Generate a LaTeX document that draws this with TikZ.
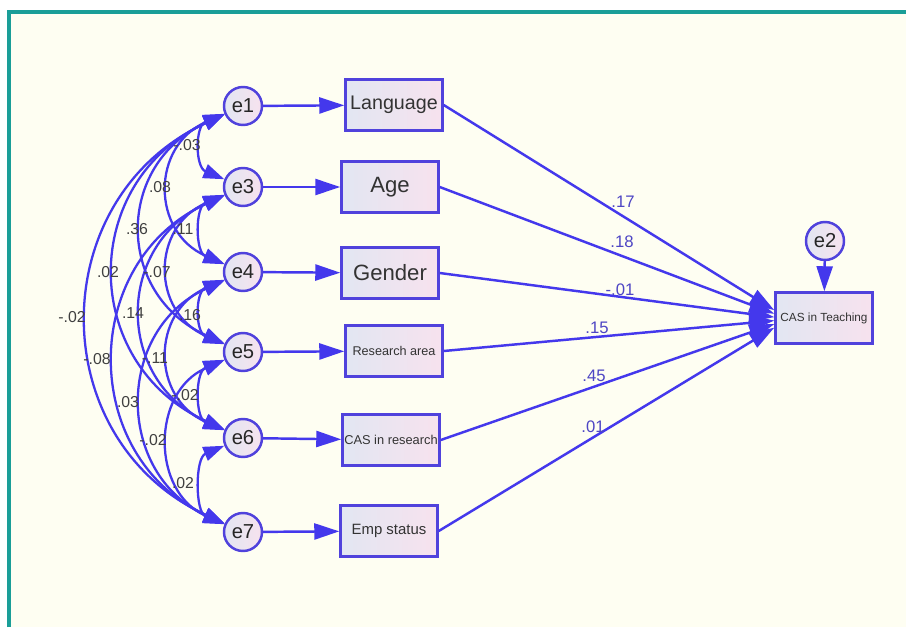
\documentclass[tikz,border=0pt]{standalone}
\usepackage{fontspec}
\setmainfont{Liberation Sans}
\usetikzlibrary{arrows.meta}

\definecolor{edgeblue}{RGB}{68,56,236}
\definecolor{nodeline}{RGB}{80,66,220}
\definecolor{boxleft}{RGB}{226,230,242}
\definecolor{boxright}{RGB}{247,226,238}
\definecolor{canvas}{RGB}{254,254,242}
\definecolor{frameteal}{RGB}{26,158,152}
\definecolor{weightblue}{RGB}{78,70,196}
\definecolor{covgray}{RGB}{64,64,64}

\tikzset{
  errnode/.style={circle, draw=nodeline, line width=1.4pt, left color=boxleft, right color=boxright,
    minimum size=7.6mm, inner sep=0pt, text=black!85, font=\fontsize{11.5}{12}\selectfont},
  varbox/.style={rectangle, draw=nodeline, line width=1.4pt, left color=boxleft, right color=boxright,
    minimum width=19.4mm, minimum height=10.2mm, inner sep=1pt, text=black!80},
  regpath/.style={-{Triangle[length=5mm,width=3.2mm]}, draw=edgeblue, line width=1.4pt},
  covpath/.style={{Triangle[length=4.2mm,width=2.9mm]}-{Triangle[length=4.2mm,width=2.9mm]},
    draw=edgeblue, line width=1.3pt},
  weight/.style={text=weightblue, font=\fontsize{9.5}{10}\selectfont},
  covlabel/.style={text=covgray, font=\fontsize{9}{10}\selectfont}
}

\begin{document}
\begin{tikzpicture}[x=0.2mm, y=-0.2mm]
  % page, background and frame
  \useasboundingbox (0,0) rectangle (906,627);
  \fill[canvas] (9,12) rectangle (906,627);
  \draw[frameteal, line width=0.8mm] (9,627) -- (9,12) -- (906,12);

  % error terms
  \node[errnode] (e1) at (243,106) {e1};
  \node[errnode] (e3) at (243,187) {e3};
  \node[errnode] (e4) at (243,272) {e4};
  \node[errnode] (e5) at (243,352) {e5};
  \node[errnode] (e6) at (243,438) {e6};
  \node[errnode] (e7) at (243,532) {e7};

  % observed variables
  \node[varbox, font=\fontsize{11.2}{12}\selectfont] (lang) at (394,105) {Language};
  \node[varbox, font=\fontsize{12.6}{13}\selectfont] (age) at (390,187) {Age};
  \node[varbox, font=\fontsize{12.6}{13}\selectfont] (gender) at (390,273) {Gender};
  \node[varbox, font=\fontsize{7.2}{8}\selectfont] (research) at (394,351) {Research area};
  \node[varbox, font=\fontsize{7.3}{8}\selectfont] (casres) at (391,440) {CAS in research};
  \node[varbox, font=\fontsize{8.5}{9}\selectfont] (emp) at (389,531) {Emp status};
  \node[varbox, font=\fontsize{6.7}{7}\selectfont] (cas) at (824,318) {CAS in Teaching};
  \node[errnode] (e2) at (825,241) {e2};

  % error paths
  \draw[regpath] (e1) -- (lang);
  \draw[regpath] (e3) -- (age);
  \draw[regpath] (e4) -- (gender);
  \draw[regpath] (e5) -- (research);
  \draw[regpath] (e6) -- (casres);
  \draw[regpath] (e7) -- (emp);
  \draw[regpath] (e2) -- (cas);

  % regression paths
  \draw[regpath] (lang.east) -- (cas.171);
  \draw[regpath] (age.east) -- (cas.175);
  \draw[regpath] (gender.east) -- (cas.179);
  \draw[regpath] (research.east) -- (cas.183);
  \draw[regpath] (casres.east) -- (cas.187);
  \draw[regpath] (emp.east) -- (cas.191);

  \node[weight] (w1) at (623,202) {.17};
  \node[weight] (w2) at (622,242) {.18};
  \node[weight] (w3) at (620,290) {-.01};
  \node[weight] (w4) at (597,328) {.15};
  \node[weight] (w5) at (594,376) {.45};
  \node[weight] (w6) at (593,427) {.01};

  % covariances between error terms
  \draw[covpath] (e1) .. controls +(-48,20) and +(-48,-20) .. (e3);
  \draw[covpath] (e3) .. controls +(-48,20) and +(-48,-20) .. (e4);
  \draw[covpath] (e4) .. controls +(-48,20) and +(-48,-20) .. (e5);
  \draw[covpath] (e5) .. controls +(-48,20) and +(-48,-20) .. (e6);
  \draw[covpath] (e6) .. controls +(-48,20) and +(-48,-20) .. (e7);
  \draw[covpath] (e1) .. controls +(-92,40) and +(-92,-40) .. (e4);
  \draw[covpath] (e3) .. controls +(-92,40) and +(-92,-40) .. (e5);
  \draw[covpath] (e4) .. controls +(-92,40) and +(-92,-40) .. (e6);
  \draw[covpath] (e5) .. controls +(-92,40) and +(-92,-40) .. (e7);
  \draw[covpath] (e1) .. controls +(-128,58) and +(-128,-58) .. (e5);
  \draw[covpath] (e3) .. controls +(-128,58) and +(-128,-58) .. (e6);
  \draw[covpath] (e4) .. controls +(-128,58) and +(-128,-58) .. (e7);
  \draw[covpath] (e1) .. controls +(-164,75) and +(-164,-75) .. (e6);
  \draw[covpath] (e3) .. controls +(-164,75) and +(-164,-75) .. (e7);
  \draw[covpath] (e1) .. controls +(-200,92) and +(-200,-92) .. (e7);

  \node[covlabel] (c13) at (187,145) {-.03};
  \node[covlabel] (c34) at (183,229) {.11};
  \node[covlabel] (c45) at (190,315) {.16};
  \node[covlabel] (c56) at (185,395) {-.02};
  \node[covlabel] (c67) at (183,483) {.02};
  \node[covlabel] (c14) at (160,187) {.08};
  \node[covlabel] (c35) at (157,272) {-.07};
  \node[covlabel] (c46) at (155,358) {-.11};
  \node[covlabel] (c57) at (153,440) {-.02};
  \node[covlabel] (c15) at (137,229) {.36};
  \node[covlabel] (c36) at (133,313) {.14};
  \node[covlabel] (c47) at (128,402) {.03};
  \node[covlabel] (c16) at (108,272) {.02};
  \node[covlabel] (c37) at (97,359) {-.08};
  \node[covlabel] (c17) at (72,317) {-.02};
\end{tikzpicture}
\end{document}
